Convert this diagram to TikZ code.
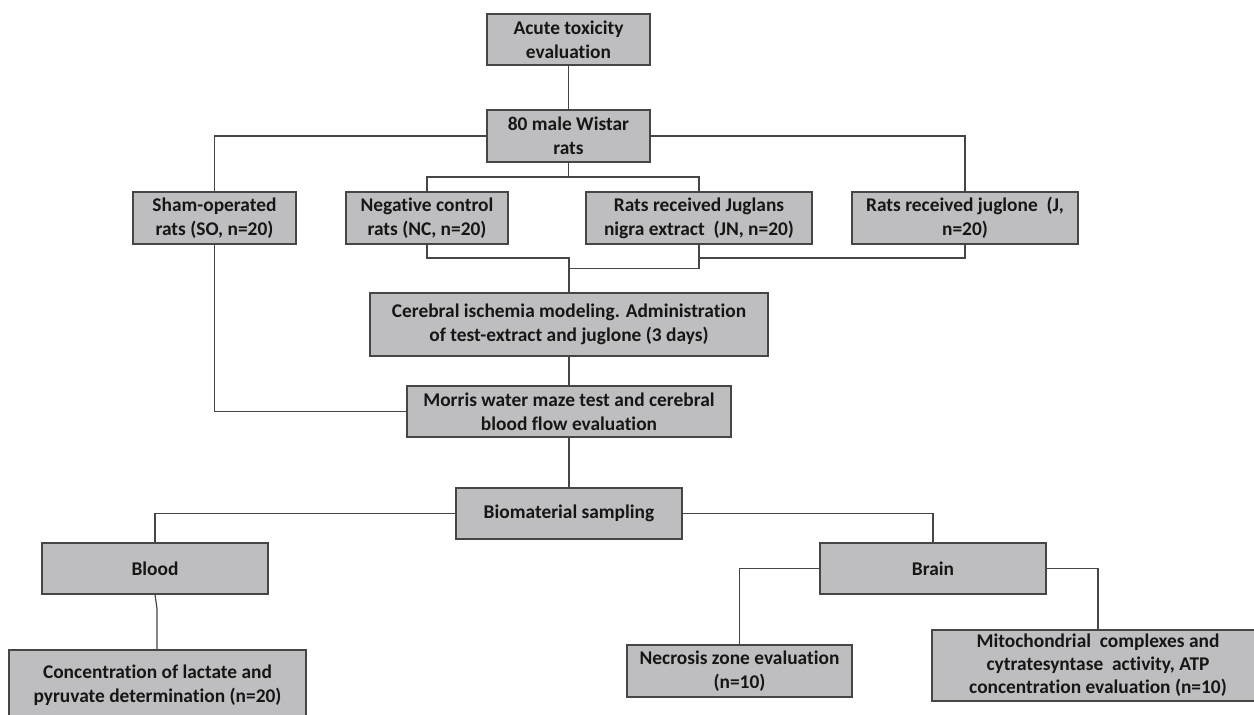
\documentclass[tikz,border=0pt]{standalone}
\usepackage{fontspec}
\setmainfont[Ligatures=NoCommon]{Carlito}
\definecolor{boxfill}{RGB}{190,190,192}
\definecolor{boxline}{RGB}{70,70,70}
\definecolor{txt}{RGB}{22,22,22}
\tikzset{
  fbox/.style={draw=boxline, line width=1.2pt, fill=boxfill, rectangle, align=center,
    inner sep=0pt, text=txt, font=\fontsize{19.4}{24}\selectfont\bfseries},
  conn/.style={draw=boxline, line width=1.2pt},
}
\begin{document}
\begin{tikzpicture}[x=1pt,y=-1pt]
\useasboundingbox (0,0) rectangle (1254,715);
\node[fbox, minimum width=163, minimum height=51] (acute) at (568.5,39.5) {Acute toxicity\\evaluation};
\node[fbox, minimum width=163, minimum height=52] (wistar) at (568.5,136) {80 male Wistar\\rats};
\node[fbox, minimum width=163, minimum height=52] (sham) at (214.5,218) {Sham-operated\\rats (SO, n=20)};
\node[fbox, minimum width=162, minimum height=52] (nc) at (427,218) {Negative control\\rats (NC, n=20)};
\node[fbox, minimum width=226, minimum height=52] (jn) at (699,218) {Rats received Juglans\\nigra extract\ \ (JN, n=20)};
\node[fbox, minimum width=226, minimum height=52] (j) at (965,218) {Rats received juglone\ \ (J,\\n=20)};
\node[fbox, minimum width=398, minimum height=63] (cer) at (569,324.5) {Cerebral ischemia modeling. Administration\\of test-extract and juglone (3 days)};
\node[fbox, minimum width=324, minimum height=51] (morris) at (569,411.5) {Morris water maze test and cerebral\\blood flow evaluation};
\node[fbox, minimum width=226, minimum height=51] (bio) at (569,513.5) {Biomaterial sampling};
\node[fbox, minimum width=226, minimum height=51] (blood) at (155,568.5) {Blood};
\node[fbox, minimum width=226, minimum height=51] (brain) at (933,568.5) {Brain};
\node[fbox, minimum width=297, minimum height=70] (conc) at (157.5,685) {Concentration of lactate and\\pyruvate determination (n=20)};
\node[fbox, minimum width=225, minimum height=52] (necro) at (739.5,671) {Necrosis zone evaluation\\(n=10)};
\node[fbox, minimum width=332, minimum height=71, font=\fontsize{19.4}{23}\selectfont\bfseries] (mito) at (1098,665.5) {Mitochondrial\ \ complexes and\\cytratesyntase\ \ activity, ATP\\concentration evaluation (n=10)};
% connectors
\coordinate (wb) at (568.5,177);
\coordinate (jnj) at (699,258);
\coordinate (cj) at (569,258);
\draw[conn] (acute) -- (wistar);
\draw[conn] (wistar.west) -| (sham.north);
\draw[conn] (wistar.east) -| (j.north);
\draw[conn] (wistar.south) -- (wb);
\draw[conn] (nc.north) |- (wb) -| (jn.north);
\draw[conn] (nc.south) |- (cj) -- (cer.north);
\draw[conn] (jn.south) -- ++(0,24) -| (cj);
\draw[conn] (j.south) |- (jnj);
\draw[conn] (cer) -- (morris);
\draw[conn] (sham.south) |- (morris.west);
\draw[conn] (morris) -- (bio);
\draw[conn] (bio.west) -| (blood.north);
\draw[conn] (bio.east) -| (brain.north);
\draw[conn] (blood.south) -- ++(2,14) |- (conc.north);
\draw[conn] (brain.west) -| (necro.north);
\draw[conn] (brain.east) -| (mito.north);
\end{tikzpicture}
\end{document}
